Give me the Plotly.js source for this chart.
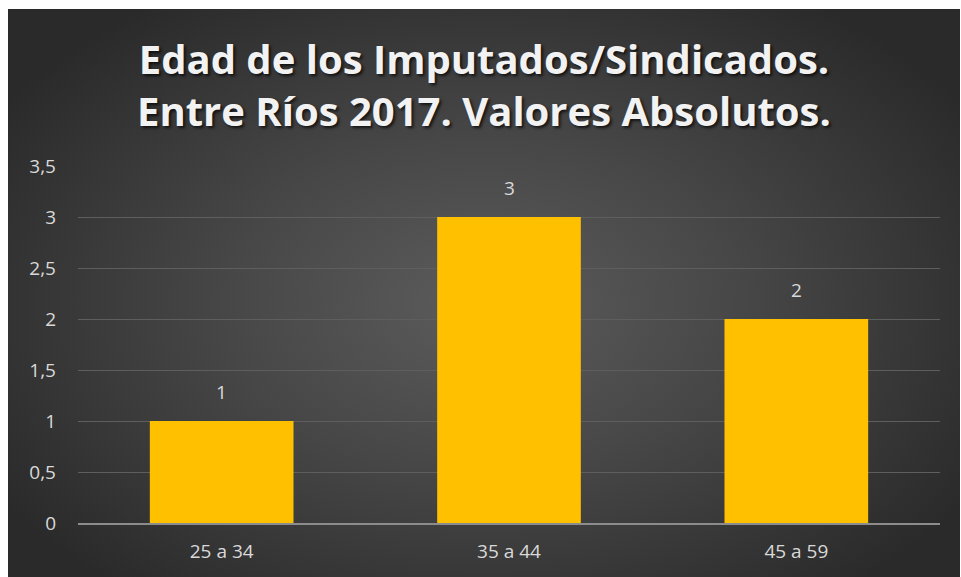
<!DOCTYPE html>
<html>
<head>
<meta charset="utf-8">
<script src="https://cdn.plot.ly/plotly-3.0.1.min.js"></script>
<style>
  html, body { margin: 0; padding: 0; background: #ffffff; }
  #graph {
    position: absolute; left: 8px; top: 9px; width: 952px; height: 568px;
    background: radial-gradient(ellipse 60% 65% at 50% 52%, #5c5c5c 0%, #474747 45%, #2a2a2a 100%);
  }
</style>
</head>
<body>
<div id="graph"></div>
<script>
// datos del grafico
const categorias = ["25 a 34", "35 a 44", "45 a 59"];
const valores = [1, 3, 2];
const titulo = "Edad de los Imputados/Sindicados.<br>Entre Ríos 2017. Valores Absolutos.";

const barras = {
    x: categorias,
    y: valores,
    type: "bar",
    marker: { color: "#ffc000" },
    hoverinfo: "x+y"
};

// etiquetas de valor encima de cada barra
const etiquetas = categorias.map(function (c, i) {
    return {
        x: c, y: valores[i], text: String(valores[i]),
        showarrow: false, yanchor: "bottom", yshift: 14,
        font: { family: "Open Sans, sans-serif", size: 19, color: "#d9d9d9" }
    };
});

const layout = {
    width: 952,
    height: 568,
    paper_bgcolor: "rgba(0,0,0,0)",
    plot_bgcolor: "rgba(0,0,0,0)",
    separators: ",.",
    margin: { l: 70, r: 20, t: 157, b: 54 },
    bargap: 0.5,
    showlegend: false,
    title: {
        text: titulo,
        x: 0.5, xanchor: "center",
        y: 0.886, yanchor: "top",
        font: {
            family: "Open Sans, sans-serif", size: 40, weight: 700, color: "#f2f2f2",
            shadow: "2px 2px 3px rgba(0,0,0,0.7)"
        }
    },
    xaxis: {
        showgrid: false,
        showline: true, linecolor: "#8c8c8c", linewidth: 2,
        ticks: "",
        ticklabelstandoff: 10,
        tickfont: { family: "Open Sans, sans-serif", size: 19, color: "#d9d9d9" }
    },
    yaxis: {
        range: [0, 3.5],
        dtick: 0.5,
        showgrid: true, gridcolor: "#5e5e5e", gridwidth: 1,
        zeroline: false, showline: false,
        ticks: "",
        ticklabelstandoff: 21,
        tickfont: { family: "Open Sans, sans-serif", size: 19, color: "#d9d9d9" }
    },
    annotations: etiquetas
};

Plotly.newPlot("graph", [barras], layout, { displayModeBar: false });
</script>
</body>
</html>
